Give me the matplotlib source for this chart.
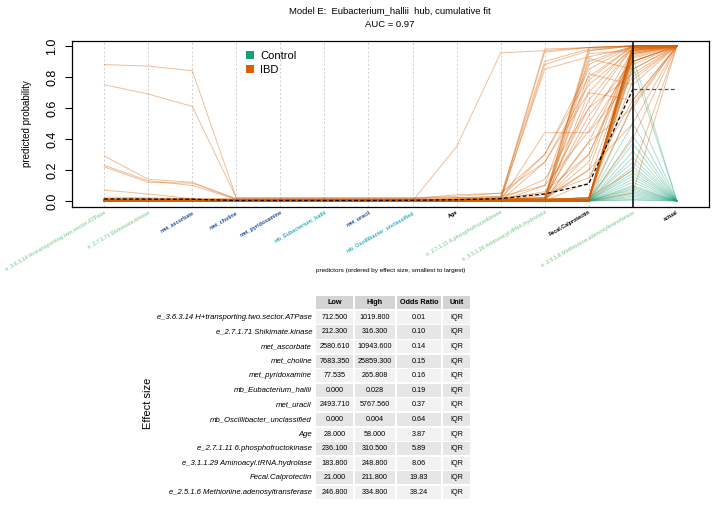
import matplotlib
matplotlib.use("Agg")
import matplotlib.pyplot as plt
from matplotlib.patches import Patch, Rectangle

plt.rcParams["font.family"] = ["Liberation Sans", "DejaVu Sans"]

# predictors in order of effect size, last x position is the observed class
predictors = [
    "e_3.6.3.14 H+transporting.two.sector.ATPase",
    "e_2.7.1.71 Shikimate.kinase",
    "met_ascorbate",
    "met_choline",
    "met_pyridoxamine",
    "mb_Eubacterium_hallii",
    "met_uracil",
    "mb_Oscillibacter_unclassified",
    "Age",
    "e_2.7.1.11 6.phosphofructokinase",
    "e_3.1.1.29 Aminoacyl.tRNA.hydrolase",
    "Fecal.Calprotectin",
    "e_2.5.1.6 Methionine.adenosyltransferase",
]
tick_labels = predictors + ["actual"]
label_colors = [
    "#97d5a6", "#97d5a6", "#1f4f9e", "#1f4f9e", "#1f4f9e", "#34adc4", "#1f4f9e",
    "#34adc4", "black", "#97d5a6", "#97d5a6", "black", "#97d5a6", "black",
]

# cumulative predicted probability per sample (13 steps)
ibd_lines = [
    [.88, .87, .84, .02, .02, .02, .02, .02, .03, .05, .30, .80, 1],
    [.75, .69, .61, .02, .02, .02, .02, .02, .02, .03, .10, .45, .90],
    [.29, .14, .12, .015, .015, .015, .015, .015, .02, .02, .02, .20, .98],
    [.23, .13, .10, .01, .01, .01, .01, .01, .01, .02, .05, .60, .82],
    [.22, .12, .115, .01, .01, .01, .01, .01, .01, .01, .01, .01, .97],
    [.07, .045, .015, .01, .01, .01, .01, .01, .01, .01, .01, .38, .95],
    [.025, .02, .015, .015, .015, .015, .015, .015, .04, .05, .25, .70, 1],
    [.01, .01, .01, 0, 0, 0, 0, 0, .35, .955, .97, .99, 1],
    [.01, .01, .01, .005, .005, .005, .005, .005, .01, .02, .98, .99, 1],
    [.01, .01, .01, .005, .005, .005, .005, .005, .01, .01, .96, .99, 1],
    [.01, .01, .005, 0, 0, 0, 0, 0, .02, .03, .90, .98, 1],
    [0, 0, 0, 0, 0, 0, 0, 0, 0, 0, .88, .97, 1],
    [.01, .01, .01, .005, .005, .005, .005, .005, .01, .01, .85, .93, .99],
    [0, 0, 0, 0, 0, 0, 0, 0, 0, 0, .44, .44, .80],
    [.01, .01, .01, .005, .005, .005, .005, .005, .01, .02, .30, .85, 1],
    [0, 0, 0, 0, 0, 0, 0, 0, 0, 0, .25, .75, .98],
    [.01, .01, .01, 0, 0, 0, 0, 0, .01, .01, .14, .60, .99],
    [0, 0, 0, 0, 0, 0, 0, 0, 0, 0, .10, .90, 1],
    [.01, .01, .01, .005, .005, .005, .005, .005, .01, .01, .06, .30, .95],
    [0, 0, 0, 0, 0, 0, 0, 0, 0, 0, .04, .15, .65],
    [.01, .01, .01, 0, 0, 0, 0, 0, .01, .01, .02, .99, 1],
    [0, 0, 0, 0, 0, 0, 0, 0, 0, 0, .01, .97, 1],
    [.01, .01, .01, .005, .005, .005, .005, .005, .01, .01, .02, .95, .97],
    [0, 0, 0, 0, 0, 0, 0, 0, 0, 0, 0, .92, .85],
    [.01, .01, .01, 0, 0, 0, 0, 0, .01, .01, .01, .88, 1],
    [0, 0, 0, 0, 0, 0, 0, 0, 0, 0, .01, .82, .75],
    [.01, .01, .005, 0, 0, 0, 0, 0, 0, .01, .02, .78, 1],
    [0, 0, 0, 0, 0, 0, 0, 0, 0, 0, 0, .70, .65],
    [.01, .01, .01, .005, .005, .005, .005, .005, .01, .01, .01, .65, .99],
    [0, 0, 0, 0, 0, 0, 0, 0, 0, 0, .01, .55, .90],
    [.01, .01, .01, 0, 0, 0, 0, 0, .01, .01, .02, .50, .97],
    [0, 0, 0, 0, 0, 0, 0, 0, 0, 0, 0, .38, .60],
    [.01, .01, .01, .005, .005, .005, .005, .005, .01, .01, .01, .30, .90],
    [0, 0, 0, 0, 0, 0, 0, 0, 0, 0, .01, .25, 1],
    [.01, .01, .01, 0, 0, 0, 0, 0, .01, .01, .01, .20, .50],
    [0, 0, 0, 0, 0, 0, 0, 0, 0, 0, 0, .12, .96],
    [.01, .01, .01, .005, .005, .005, .005, .005, .005, .01, .01, .01, 1],
    [0, 0, 0, 0, 0, 0, 0, 0, 0, 0, 0, 0, 1],
    [.01, .01, .01, 0, 0, 0, 0, 0, .005, .005, .01, .02, 1],
    [0, 0, 0, 0, 0, 0, 0, 0, 0, 0, 0, .01, .995],
    [.01, .01, .01, .005, .005, .005, .005, .005, .005, .01, .01, .01, .99],
    [0, 0, 0, 0, 0, 0, 0, 0, 0, 0, 0, 0, .99],
    [.01, .01, .005, 0, 0, 0, 0, 0, 0, .005, .01, .02, .985],
    [0, 0, 0, 0, 0, 0, 0, 0, 0, 0, 0, .01, .98],
    [.01, .01, .01, .005, .005, .005, .005, .005, .005, .01, .01, .01, .98],
    [0, 0, 0, 0, 0, 0, 0, 0, 0, 0, 0, 0, .975],
    [.01, .01, .01, 0, 0, 0, 0, 0, .005, .005, .01, .02, .97],
    [0, 0, 0, 0, 0, 0, 0, 0, 0, 0, 0, .01, .96],
    [.01, .01, .01, .005, .005, .005, .005, .005, .005, .01, .01, .01, .95],
    [0, 0, 0, 0, 0, 0, 0, 0, 0, 0, 0, 0, .94],
    [.01, .01, .005, 0, 0, 0, 0, 0, 0, .005, .01, .02, .93],
    [0, 0, 0, 0, 0, 0, 0, 0, 0, 0, 0, .01, .92],
    [.01, .01, .01, .005, .005, .005, .005, .005, .005, .01, .01, .01, .90],
    [0, 0, 0, 0, 0, 0, 0, 0, 0, 0, 0, 0, .88],
    [.01, .01, .01, 0, 0, 0, 0, 0, .005, .005, .01, .02, .85],
    [0, 0, 0, 0, 0, 0, 0, 0, 0, 0, 0, .01, .78],
    [.01, .01, .005, 0, 0, 0, 0, 0, 0, .005, .01, .02, .62],
    [0, 0, 0, 0, 0, 0, 0, 0, 0, 0, 0, .01, .40],
    [.01, .01, .01, 0, 0, 0, 0, 0, .005, .005, .01, .02, .20],
    [0, 0, 0, 0, 0, 0, 0, 0, 0, 0, 0, 0, .05],
]
control_lines = [
    [0, 0, 0, 0, 0, 0, 0, 0, 0, 0, 0, .005, .93],
    [.01, .01, .005, 0, 0, 0, 0, 0, 0, 0, .005, .01, .87],
    [0, 0, 0, 0, 0, 0, 0, 0, 0, 0, 0, 0, .62],
    [.005, .005, 0, 0, 0, 0, 0, 0, 0, 0, 0, .005, .50],
    [0, 0, 0, 0, 0, 0, 0, 0, 0, 0, 0, 0, .42],
    [.01, .01, .005, 0, 0, 0, 0, 0, 0, 0, 0, .005, .37],
    [0, 0, 0, 0, 0, 0, 0, 0, 0, 0, 0, 0, .32],
    [.005, 0, 0, 0, 0, 0, 0, 0, 0, 0, 0, 0, .28],
    [0, 0, 0, 0, 0, 0, 0, 0, 0, 0, 0, .005, .25],
    [0, 0, 0, 0, 0, 0, 0, 0, 0, 0, 0, 0, .22],
    [.01, .005, 0, 0, 0, 0, 0, 0, 0, 0, 0, 0, .20],
    [0, 0, 0, 0, 0, 0, 0, 0, 0, 0, 0, 0, .18],
    [0, 0, 0, 0, 0, 0, 0, 0, 0, 0, 0, .005, .16],
    [.005, .005, 0, 0, 0, 0, 0, 0, 0, 0, 0, 0, .14],
    [0, 0, 0, 0, 0, 0, 0, 0, 0, 0, 0, 0, .12],
    [0, 0, 0, 0, 0, 0, 0, 0, 0, 0, 0, 0, .10],
    [.01, .005, 0, 0, 0, 0, 0, 0, 0, 0, 0, 0, .09],
    [0, 0, 0, 0, 0, 0, 0, 0, 0, 0, 0, 0, .08],
    [0, 0, 0, 0, 0, 0, 0, 0, 0, 0, 0, .005, .07],
    [0, 0, 0, 0, 0, 0, 0, 0, 0, 0, 0, 0, .06],
    [.005, 0, 0, 0, 0, 0, 0, 0, 0, 0, 0, 0, .05],
    [0, 0, 0, 0, 0, 0, 0, 0, 0, 0, 0, 0, .04],
    [0, 0, 0, 0, 0, 0, 0, 0, 0, 0, 0, 0, .03],
    [0, 0, 0, 0, 0, 0, 0, 0, 0, 0, 0, 0, .02],
    [.005, .005, 0, 0, 0, 0, 0, 0, 0, 0, 0, 0, .01],
    [0, 0, 0, 0, 0, 0, 0, 0, 0, 0, 0, 0, .005],
]
mean_prob = [.013, .012, .011, .003, .003, .003, .003, .004, .008, .015, .045, .11, .72]
ibd_fraction = 0.72
auc = 0.97

# effect size table
table_low = [712.5, 212.3, 2580.61, 7683.35, 77.535, 0.0, 2493.71, 0.0, 28.0,
             236.1, 183.8, 21.0, 246.8]
table_high = [1019.8, 316.3, 10943.6, 25859.3, 265.808, 0.028, 5767.56, 0.004, 58.0,
              310.5, 248.8, 211.8, 334.8]
odds_ratio = [0.01, 0.10, 0.14, 0.15, 0.16, 0.19, 0.37, 0.64, 3.87, 5.89, 8.06, 19.83, 38.24]
unit = "IQR"

IBD_COLOR = "#d95f02"
CONTROL_COLOR = "#1b9e77"

fig = plt.figure(figsize=(7.12, 5.14), dpi=100)
W, H = 712, 514
ax = fig.add_axes([72 / W, 1 - 207 / H, 637 / W, 166 / H])

x = list(range(1, len(tick_labels) + 1))

for xi in x[:12]:
    ax.axvline(xi, color="#bdbdbd", lw=0.5, ls=(0, (3, 3)), zorder=0)
ax.axvline(13, color="black", lw=1.1, zorder=5)

for row in control_lines:
    ax.plot(x, row + [0], color=CONTROL_COLOR, alpha=0.35, lw=0.7, zorder=1)
for row in ibd_lines:
    ax.plot(x, row + [1], color=IBD_COLOR, alpha=0.4, lw=0.7, zorder=2)

ax.plot(x[:13], mean_prob, color="black", ls=(0, (3, 2)), lw=0.9, zorder=6)
ax.plot([13, 14], [mean_prob[-1], ibd_fraction], color="#555555",
        ls=(0, (3, 2)), lw=0.9, zorder=6)

ax.set_xlim(0.27, 14.73)
ax.set_ylim(-0.039, 1.032)
ax.set_yticks([0, 0.2, 0.4, 0.6, 0.8, 1.0])
ax.set_yticklabels(["0.0", "0.2", "0.4", "0.6", "0.8", "1.0"], fontsize=9)
for lab in ax.get_yticklabels():
    lab.set_rotation(90)
    lab.set_va("center")
ax.tick_params(axis="y", length=5, width=0.8, pad=5)

ax.set_xticks(x)
ax.set_xticklabels(tick_labels, fontsize=3.9, fontweight="bold")
for lab, col in zip(ax.get_xticklabels(), label_colors):
    lab.set_color(col)
    lab.set_rotation(30)
    lab.set_ha("right")
    lab.set_va("top")
    lab.set_rotation_mode("anchor")
ax.tick_params(axis="x", length=0, pad=2)

for sp in ax.spines.values():
    sp.set_linewidth(0.9)

ax.set_ylabel("predicted probability", fontsize=7, labelpad=10)
ax.text(0.5, -0.385, "predictors (ordered by effect size, smallest to largest)",
        transform=ax.transAxes, ha="center", va="center", fontsize=4.6)

handles = [Patch(facecolor=CONTROL_COLOR, edgecolor="none", label="Control"),
           Patch(facecolor=IBD_COLOR, edgecolor="none", label="IBD")]
ax.legend(handles=handles, loc="upper left", bbox_to_anchor=(0.266, 0.968),
          frameon=False, fontsize=8, handlelength=0.7, handleheight=0.7,
          handletextpad=0.6, labelspacing=0.35, borderaxespad=0)

fig.text(390 / W, 1 - 10.5 / H, "Model E:  Eubacterium_hallii  hub, cumulative fit",
         ha="center", va="center", fontsize=6.8)
fig.text(390 / W, 1 - 24.5 / H, f"AUC = {auc:.2f}", ha="center", va="center",
         fontsize=6.8)

# table drawn in pixel coordinates on an overlay axes
tab = fig.add_axes([0, 0, 1, 1])
tab.set_xlim(0, W)
tab.set_ylim(H, 0)
tab.axis("off")

col_edges = [(316, 353), (355, 395), (397, 441), (443, 470)]
headers = ["Low", "High", "Odds Ratio", "Unit"]
head_y, row0_y, pitch, cell_h = 302.5, 317.3, 14.6, 13.2

for (x0, x1), name in zip(col_edges, headers):
    tab.add_patch(Rectangle((x0, head_y - cell_h / 2), x1 - x0, cell_h,
                            facecolor="#d4d4d4", edgecolor="none"))
    tab.text((x0 + x1) / 2, head_y, name, ha="center", va="center",
             fontsize=5.2, fontweight="bold")

for i, name in enumerate(predictors):
    yc = row0_y + i * pitch
    fill = "#f2f2f2" if i % 2 == 0 else "#e6e6e6"
    cells = [f"{table_low[i]:.3f}", f"{table_high[i]:.3f}", f"{odds_ratio[i]:.2f}", unit]
    for (x0, x1), val in zip(col_edges, cells):
        tab.add_patch(Rectangle((x0, yc - cell_h / 2), x1 - x0, cell_h,
                                facecolor=fill, edgecolor="none"))
        tab.text((x0 + x1) / 2, yc, val, ha="center", va="center", fontsize=5.2)
    tab.text(312, yc, name, ha="right", va="center", fontsize=5.6, fontstyle="italic")

tab.text(148, 403, "Effect size", rotation=90, ha="center", va="center", fontsize=8)

fig.savefig("out.png", dpi=100)
